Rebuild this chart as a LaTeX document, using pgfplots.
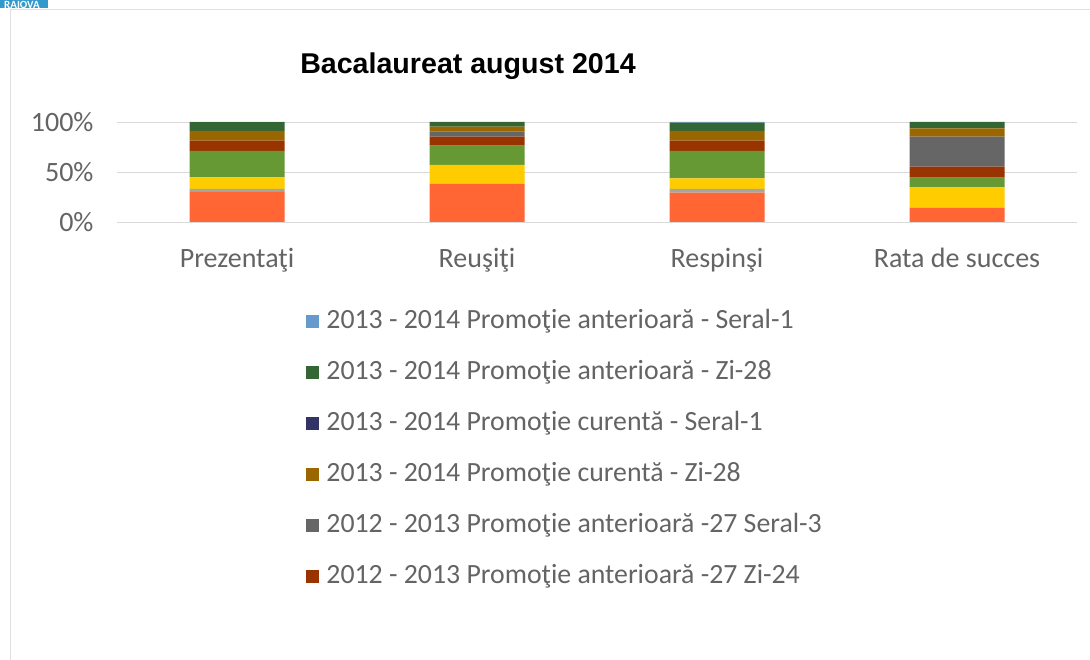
\documentclass[border=0pt]{standalone}
\usepackage{pgfplots}
\pgfplotsset{compat=1.18}
\usepackage{fontspec}
\setmainfont{Carlito}
\newfontfamily\titlefont{Liberation Sans}
\definecolor{cOrange}{HTML}{FF6633}
\definecolor{cLGray}{HTML}{A5A5A5}
\definecolor{cYellow}{HTML}{FFCC00}
\definecolor{cGreen}{HTML}{669933}
\definecolor{cDRed}{HTML}{993300}
\definecolor{cGray}{HTML}{666666}
\definecolor{cBrown}{HTML}{996600}
\definecolor{cNavy}{HTML}{333366}
\definecolor{cDGreen}{HTML}{336633}
\definecolor{cBlue}{HTML}{6699CC}
\definecolor{cBadge}{HTML}{3399CC}
\definecolor{txt}{HTML}{646464}
\begin{document}
\begin{tikzpicture}[x=1pt,y=1pt]
\useasboundingbox[fill=white] (0,0) rectangle (1090,660);
\draw[gray!25, line width=1pt] (10,0) -- (10,650) -- (1090,650);
\fill[cBadge] (0,652) rectangle (48,660);
\begin{scope}
\clip (0,652) rectangle (48,660);
\node[text=white, font=\fontsize{11}{11}\selectfont\bfseries, anchor=center] at (22,655) {RAIOVA};
\end{scope}
\node[font=\titlefont\fontsize{28.6}{30}\selectfont\bfseries, anchor=center] at (468,594) {Bacalaureat august 2014};
\begin{axis}[
  at={(117pt,438pt)}, anchor=south west,
  scale only axis, width=960pt, height=100pt,
  xmin=-0.5, xmax=3.5, ymin=0, ymax=100,
  ybar stacked, bar width=95pt,
  xtick={0,1,2,3},
  xticklabels={Prezentaţi,Reuşiţi,Respinşi,Rata de succes},
  ytick={0,50,100},
  yticklabels={0\%,50\%,100\%},
  ymajorgrids, major grid style={draw=black!15, line width=0.8pt},
  axis line style={draw=none}, tick style={draw=none},
  ticklabel style={font=\fontsize{28}{30}\selectfont, text=txt},
  xticklabel style={yshift=-23pt},
  yticklabel style={xshift=-20pt},
  reverse legend,
  legend style={draw=none, fill=none, at={(0.194,-0.83)}, anchor=north west,
    font=\fontsize{27.8}{30}\selectfont, text=txt,
    nodes={text height=19pt, text depth=6pt, inner sep=2pt},
    row sep=22pt},
  legend cell align=left,
  legend image code/.code={\fill[#1,draw=none] (0pt,-6.5pt) rectangle (13pt,6.5pt); \path (18pt,0pt);},
]
\addplot[fill=cOrange, draw=none] coordinates {(0,30) (1,38) (2,29.3) (3,14.3)};
\addplot[fill=cLGray, draw=none] coordinates {(0,3) (1,0) (2,3.7) (3,0)};
\addplot[fill=cYellow, draw=none] coordinates {(0,11.7) (1,19) (2,10.7) (3,20.4)};
\addplot[fill=cGreen, draw=none] coordinates {(0,26.3) (1,19.3) (2,27.3) (3,9.6)};
\addplot[fill=cDRed, draw=none] coordinates {(0,10.3) (1,9) (2,10.3) (3,11)};
\addplot[fill=cGray, draw=none] coordinates {(0,0) (1,5) (2,0) (3,30)};
\addplot[fill=cBrown, draw=none] coordinates {(0,9.7) (1,5) (2,9.7) (3,8.4)};
\addplot[fill=cNavy, draw=none] coordinates {(0,0) (1,0) (2,0) (3,0)};
\addplot[fill=cDGreen, draw=none] coordinates {(0,8.8) (1,4.7) (2,8.3) (3,6.3)};
\addplot[fill=cBlue, draw=none] coordinates {(0,0.2) (1,0) (2,0.7) (3,0)};
\legend{,,,,2012 - 2013 Promoţie anterioară -27 Zi-24,2012 - 2013 Promoţie anterioară -27 Seral-3,2013 - 2014 Promoţie curentă - Zi-28,2013 - 2014 Promoţie curentă - Seral-1,2013 - 2014 Promoţie anterioară - Zi-28,2013 - 2014 Promoţie anterioară - Seral-1}
\end{axis}
\end{tikzpicture}
\end{document}
